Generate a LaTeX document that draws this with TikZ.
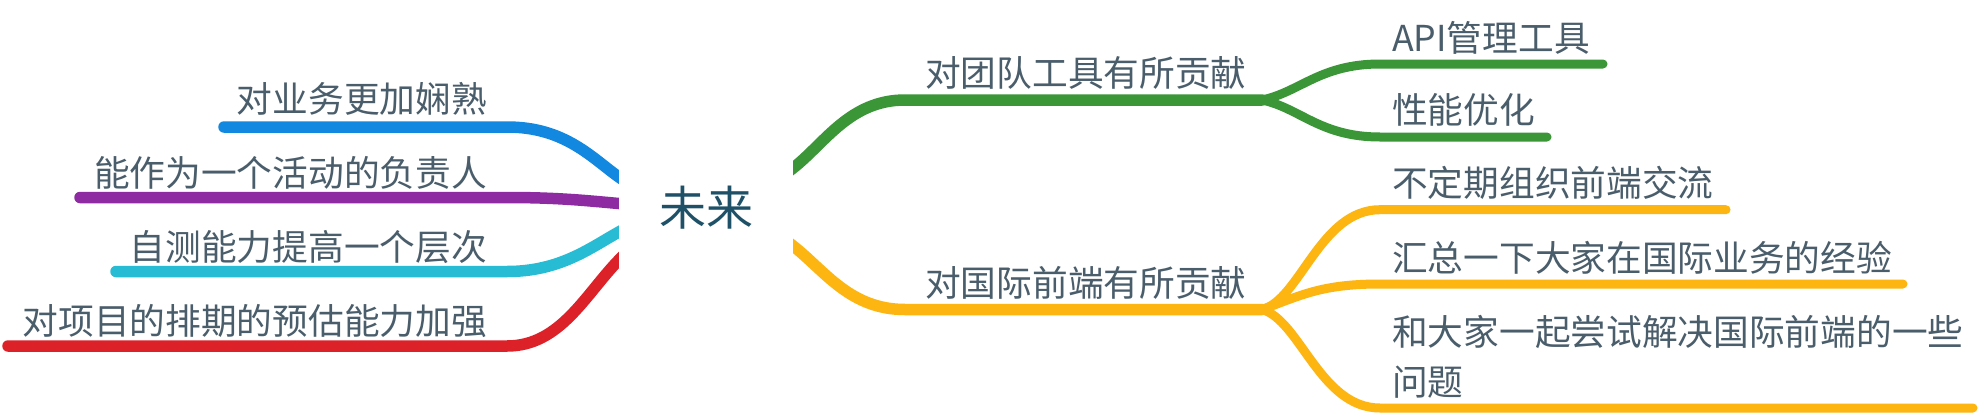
\documentclass[tikz,border=0pt]{standalone}
\usepackage{fontspec}
\setmainfont{Noto Sans CJK SC}
\usetikzlibrary{backgrounds}
\definecolor{txt}{HTML}{4A5D6B}
\definecolor{roottxt}{HTML}{1E5167}
\definecolor{cblue}{HTML}{1288E0}
\definecolor{cpurple}{HTML}{8E2BA2}
\definecolor{ccyan}{HTML}{28BCD4}
\definecolor{cred}{HTML}{DC2128}
\definecolor{cgreen}{HTML}{3A9636}
\definecolor{cyellow}{HTML}{FDB512}
\begin{document}
\begin{tikzpicture}[x=1pt,y=-1pt,
  leaf/.style={font=\fontsize{35.7}{50}\selectfont, text=txt, inner sep=0pt},
  rootst/.style={font=\fontsize{47}{56}\selectfont, text=roottxt, fill=white,
     minimum width=174pt, minimum height=120pt, inner sep=0pt},
  mainline/.style={line width=11.5pt, line cap=round},
  subline/.style={line width=9pt, line cap=round}]
\useasboundingbox (0,0) rectangle (1988,418);

% root
\node[rootst] (root) at (706,208) {未来};

% left children
\node[leaf, anchor=base east] (l1) at (487,112.7) {对业务更加娴熟};
\node[leaf, anchor=base east] (l2) at (487,186) {能作为一个活动的负责人};
\node[leaf, anchor=base east] (l3) at (487,260.5) {自测能力提高一个层次};
\node[leaf, anchor=base east] (l4) at (487,334.5) {对项目的排期的预估能力加强};

% right main children
\node[leaf, anchor=base west] (r1) at (925,86.7) {对团队工具有所贡献};
\node[leaf, anchor=base west] (r2) at (925,296.7) {对国际前端有所贡献};

% grandchildren
\node[leaf, anchor=base west] (g1) at (1392,51.2) {API管理工具};
\node[leaf, anchor=base west] (g2) at (1392,123.7) {性能优化};
\node[leaf, anchor=base west] (g3) at (1392,196.7) {不定期组织前端交流};
\node[leaf, anchor=base west] (g4) at (1392,271.7) {汇总一下大家在国际业务的经验};
\node[leaf, anchor=base west, align=left] (g5) at (1392,395.7) {和大家一起尝试解决国际前端的一些\\问题};

% connector end points
\coordinate (e1) at (224,127);
\coordinate (e2) at (80,197.5);
\coordinate (e3) at (116,271.5);
\coordinate (e4) at (8,346);
\coordinate (jg) at (1262,100);
\coordinate (jy) at (1262,309.5);
\coordinate (f1) at (1603,64);
\coordinate (f2) at (1547,137);
\coordinate (f3) at (1726,209.7);
\coordinate (f4) at (1903,284);
\coordinate (f5) at (1973,408);

\begin{scope}[on background layer]
\fill[white] (0,0) rectangle (1988,418);
% left branches
\draw[mainline, cblue] (e1) -- (507,127) .. controls (565,127) and (592,158) .. (root.west |- 0,177) -- ++(27,19);
\draw[mainline, cpurple] (e2) -- (507,197.5) .. controls (560,197.5) and (590,201) .. (root.west |- 0,203.5) -- ++(30,3);
\draw[mainline, ccyan] (e3) -- (507,271.5) .. controls (560,271.5) and (590,248) .. (root.west |- 0,232) -- ++(29,-16);
\draw[mainline, cred] (e4) -- (507,346) .. controls (560,346) and (585,295) .. (root.west |- 0,260) -- ++(25,-26);
% right branches
\draw[mainline, cgreen] (root.east |- 0,168) ++(-32,25) -- (root.east |- 0,168) .. controls (825,143) and (850,100) .. (905,100) -- (jg);
\draw[mainline, cyellow] (root.east |- 0,246) ++(-32,-25) -- (root.east |- 0,246) .. controls (825,271) and (850,309.5) .. (905,309.5) -- (jy);
% sub branches
\draw[subline, cgreen] (jg) .. controls (1300,92) and (1320,64) .. (1380,64) -- (f1);
\draw[subline, cgreen] (jg) .. controls (1300,108) and (1320,137) .. (1380,137) -- (f2);
\draw[subline, cyellow] (jy) .. controls (1300,300) and (1320,209.7) .. (1380,209.7) -- (f3);
\draw[subline, cyellow] (jy) .. controls (1300,296) and (1320,284) .. (1380,284) -- (f4);
\draw[subline, cyellow] (jy) .. controls (1300,320) and (1320,408) .. (1380,408) -- (f5);
\end{scope}
\end{tikzpicture}
\end{document}
